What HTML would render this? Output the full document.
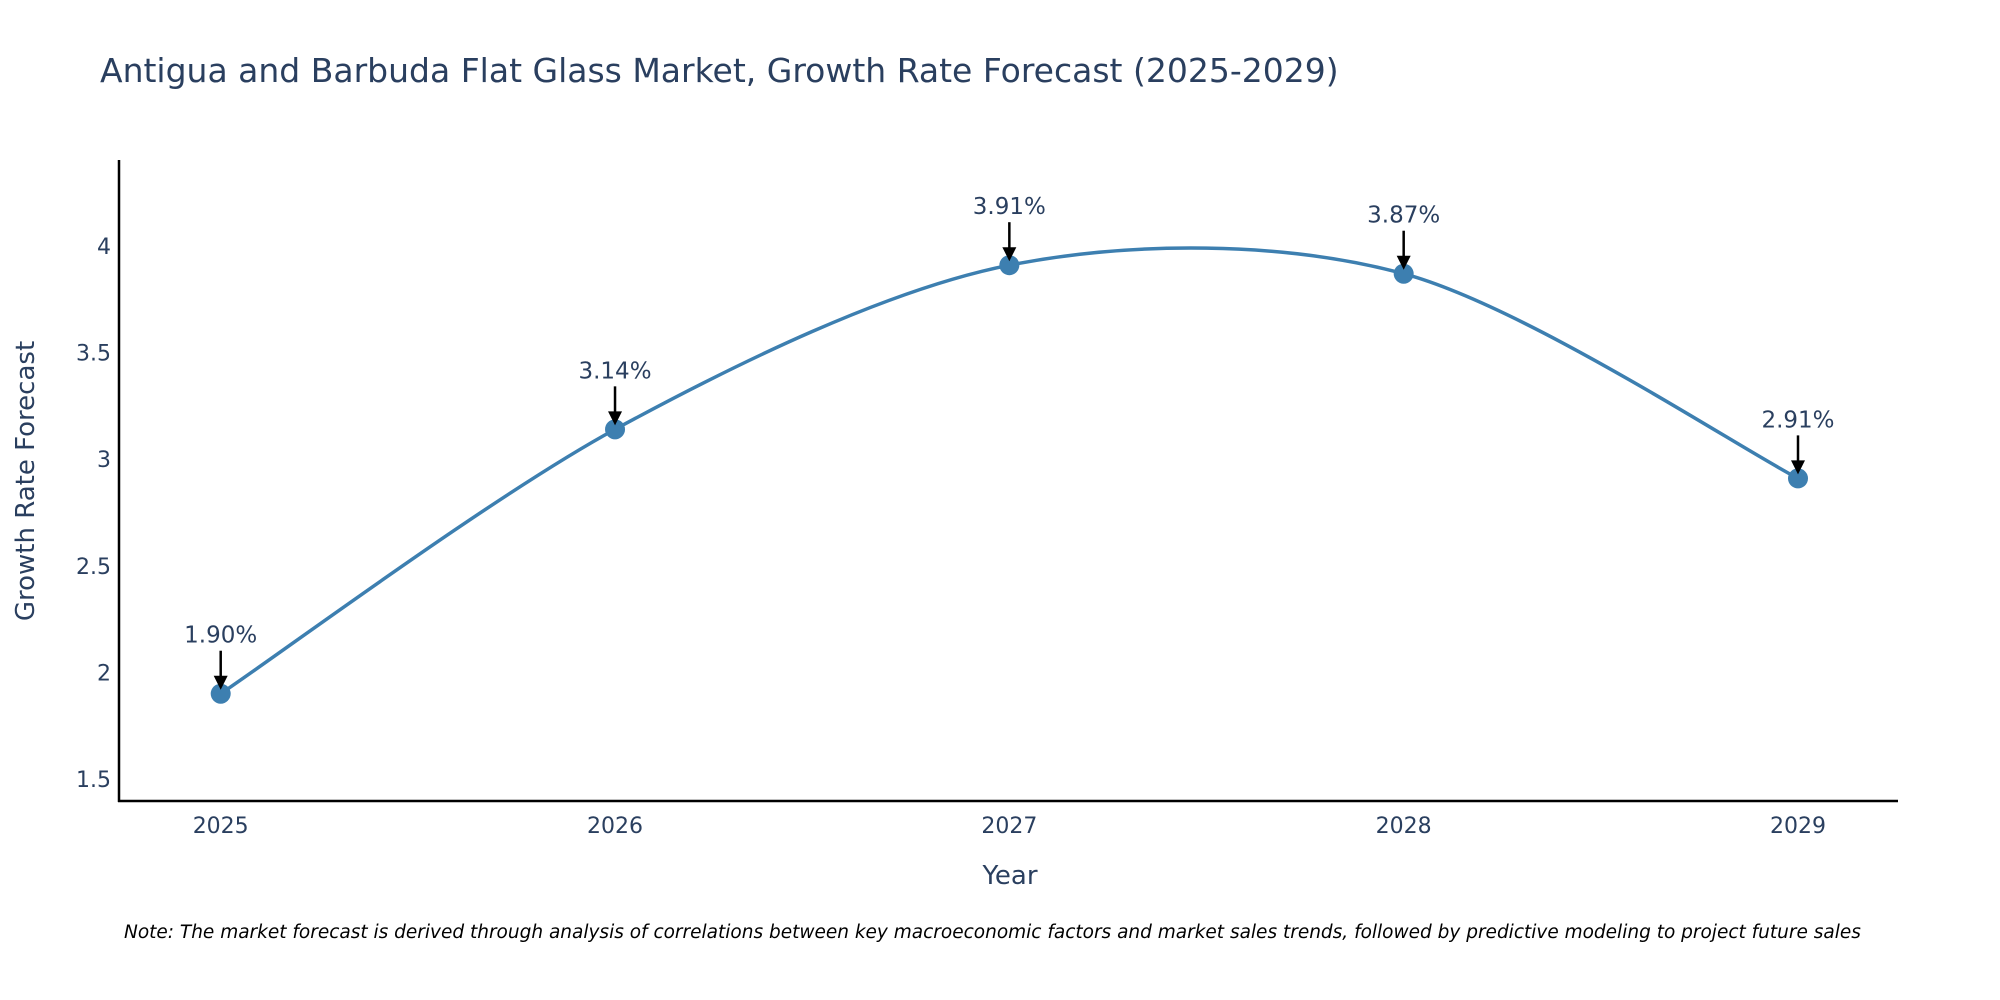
<!DOCTYPE html>
<html><head><meta charset="utf-8"><style>
body{margin:0;background:#fff;}
svg{display:block;font-family:"DejaVu Sans","Liberation Sans",sans-serif;}
</style></head><body>
<svg id="chart" width="2000" height="1000" viewBox="0 0 2000 1000" xmlns="http://www.w3.org/2000/svg">
<rect width="2000" height="1000" fill="#fff"/>
<text x="100" y="82" font-size="33" fill="#2a3f5f">Antigua and Barbuda Flat Glass Market, Growth Rate Forecast (2025-2029)</text>
<g id="yticks"></g><g id="xticks"></g>
<line x1="119" y1="160" x2="119" y2="802" stroke="#000" stroke-width="2.5"/>
<line x1="118" y1="801" x2="1898" y2="801" stroke="#000" stroke-width="2.5"/>
<path id="series-line" fill="none" stroke="#3d7fb0" stroke-width="3.5"/>
<g id="marks"></g>
<text x="1010" y="884" font-size="26" fill="#2a3f5f" text-anchor="middle">Year</text>
<text x="34" y="481" font-size="26" fill="#2a3f5f" text-anchor="middle" transform="rotate(-90 34 481)">Growth Rate Forecast</text>
<text x="124" y="938" font-size="18.5" font-style="italic" fill="#000">Note: The market forecast is derived through analysis of correlations between key macroeconomic factors and market sales trends, followed by predictive modeling to project future sales</text>
</svg>
<script>
const years = [2025, 2026, 2027, 2028, 2029];
const rates = [1.90, 3.14, 3.91, 3.87, 2.91];
const rateLabels = ["1.90%", "3.14%", "3.91%", "3.87%", "2.91%"];
const yTicks = [1.5, 2, 2.5, 3, 3.5, 4];

const NS = "http://www.w3.org/2000/svg";
function xS(v){ return 220.7 + (v - 2025) * (1798 - 220.7) / 4; }
function yS(v){ return 246 + (4 - v) * 213.2; }
function mk(tag, attrs, parent){ const e = document.createElementNS(NS, tag); for (const k in attrs) e.setAttribute(k, attrs[k]); parent.appendChild(e); return e; }

const yt = document.getElementById('yticks');
yTicks.forEach(t => {
  const e = mk('text', {x: 111, y: yS(t) + 8, 'font-size': 22, fill: '#2a3f5f', 'text-anchor': 'end'}, yt);
  
  
  e.textContent = String(t);
});
const xt = document.getElementById('xticks');
years.forEach(y => {
  const e = mk('text', {x: xS(y), y: 833, 'font-size': 22, fill: '#2a3f5f', 'text-anchor': 'middle'}, xt);
  
  
  e.textContent = String(y);
});

const pts = years.map((y, i) => [xS(y), yS(rates[i])]);
let d = 'M' + pts[0][0] + ',' + pts[0][1];
for (let i = 0; i < pts.length - 1; i++) {
  const p0 = pts[Math.max(0, i - 1)], p1 = pts[i], p2 = pts[i + 1], p3 = pts[Math.min(pts.length - 1, i + 2)];
  const k = 6.5;
  const c1 = [p1[0] + (p2[0] - p0[0]) / k, p1[1] + (p2[1] - p0[1]) / k];
  const c2 = [p2[0] - (p3[0] - p1[0]) / k, p2[1] - (p3[1] - p1[1]) / k];
  d += ' C' + c1.join(',') + ' ' + c2.join(',') + ' ' + p2.join(',');
}
document.getElementById('series-line').setAttribute('d', d);

const mg = document.getElementById('marks');
pts.forEach((p, i) => {
  const c = mk('circle', {cx: p[0], cy: p[1], r: 10, fill: '#3d7fb0'}, mg);
  
  
  const l = mk('line', {x1: p[0], y1: p[1] - 43, x2: p[0], y2: p[1] - 16, stroke: '#000', 'stroke-width': 2.5}, mg);
  
  
  const h = mk('polygon', {points: (p[0]-7)+','+(p[1]-18)+' '+(p[0]+7)+','+(p[1]-18)+' '+p[0]+','+(p[1]-4), fill: '#000'}, mg);
  
  
  const t = mk('text', {x: p[0], y: p[1] - 51, 'font-size': 23, fill: '#2a3f5f', 'text-anchor': 'middle'}, mg);
  
  
  t.textContent = rateLabels[i];
});
</script>
</body></html>
